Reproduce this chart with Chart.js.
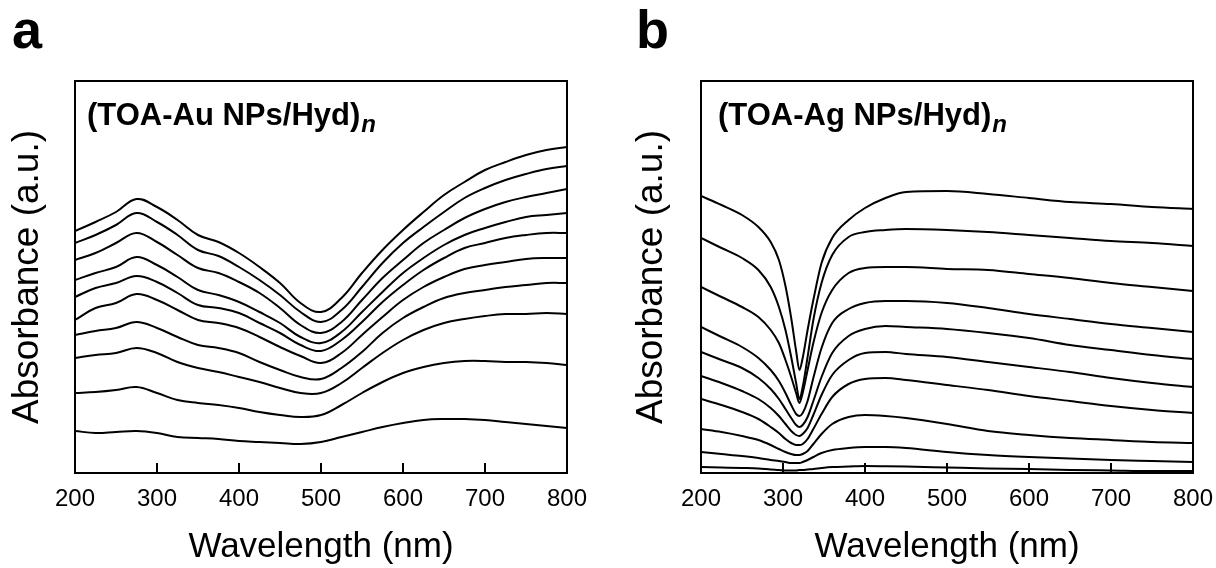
<!DOCTYPE html>
<html>
<head>
<meta charset="utf-8">
<script src="https://cdn.jsdelivr.net/npm/chart.js@4/dist/chart.umd.min.js"></script>
<style>
html,body{margin:0;padding:0;background:#fff;width:1216px;height:568px;overflow:hidden}
.panel{position:absolute;top:0;width:608px;height:568px}
</style>
</head>
<body>
<div class="panel" style="left:0"><canvas id="ca" width="608" height="568"></canvas></div>
<div class="panel" style="left:608px"><canvas id="cb" width="608" height="568"></canvas></div>
<script>
// ---- data ----
const xTickValues = [200, 300, 400, 500, 600, 700, 800];
const xTitle = 'Wavelength (nm)';
const yTitle = 'Absorbance (a.u.)';
const panelLabels = ['a', 'b'];
const sampleLabels = ['(TOA-Au NPs/Hyd)', '(TOA-Ag NPs/Hyd)'];
const subscriptLabel = 'n';

// panel a: (TOA-Au NPs/Hyd)n, 10 bilayers
const wavelengthsA = [200,225,250,275,300,325,350,375,400,425,450,475,500,525,550,575,600,625,650,675,700,725,750,775,800];
const au1  = [2.42,2.51,2.61,2.74,2.66,2.53,2.38,2.31,2.20,2.06,1.90,1.70,1.61,1.75,2.00,2.23,2.43,2.61,2.78,2.91,3.03,3.11,3.18,3.23,3.26];
const au2  = [2.30,2.38,2.48,2.60,2.51,2.38,2.23,2.17,2.06,1.93,1.78,1.61,1.51,1.63,1.86,2.10,2.30,2.46,2.61,2.75,2.85,2.93,2.99,3.04,3.07];
const au3  = [2.13,2.20,2.30,2.40,2.31,2.18,2.05,2.00,1.91,1.80,1.65,1.48,1.40,1.51,1.73,1.95,2.13,2.30,2.43,2.55,2.64,2.71,2.76,2.80,2.84];
const au4  = [1.93,2.00,2.06,2.16,2.08,1.96,1.83,1.78,1.71,1.61,1.50,1.36,1.30,1.41,1.61,1.81,2.00,2.15,2.28,2.38,2.45,2.51,2.56,2.58,2.60];
const au5  = [1.76,1.85,1.90,1.97,1.91,1.80,1.68,1.65,1.60,1.50,1.40,1.28,1.22,1.33,1.51,1.71,1.88,2.03,2.15,2.25,2.30,2.35,2.38,2.40,2.40];
const au6  = [1.53,1.65,1.70,1.79,1.73,1.63,1.53,1.50,1.45,1.36,1.26,1.17,1.10,1.20,1.38,1.56,1.73,1.86,1.96,2.04,2.08,2.11,2.14,2.15,2.15];
const au7  = [1.38,1.42,1.45,1.51,1.45,1.36,1.28,1.25,1.20,1.11,1.03,0.96,0.94,1.05,1.21,1.40,1.55,1.66,1.75,1.80,1.83,1.86,1.88,1.90,1.90];
const au8  = [1.15,1.18,1.20,1.25,1.20,1.11,1.05,1.01,0.96,0.91,0.85,0.80,0.80,0.90,1.05,1.20,1.33,1.43,1.50,1.54,1.57,1.59,1.59,1.60,1.59];
const au9  = [0.80,0.81,0.83,0.86,0.80,0.73,0.70,0.68,0.65,0.61,0.58,0.56,0.58,0.68,0.80,0.91,1.00,1.06,1.10,1.12,1.12,1.11,1.11,1.10,1.08];
const au10 = [0.42,0.40,0.41,0.42,0.40,0.36,0.35,0.34,0.32,0.31,0.30,0.29,0.31,0.36,0.41,0.46,0.50,0.53,0.54,0.54,0.53,0.51,0.49,0.47,0.45];

// panel b: (TOA-Ag NPs/Hyd)n, 10 bilayers
const wavelengthsB = [200,225,250,270,285,295,303,310,316,320,324,330,337,347,360,380,400,425,450,500,550,600,650,700,750,800];
const ag1  = [2.77,2.68,2.58,2.46,2.31,2.13,1.87,1.55,1.22,1.03,1.15,1.43,1.73,2.10,2.35,2.53,2.65,2.75,2.81,2.82,2.79,2.75,2.71,2.69,2.66,2.64];
const ag2  = [2.35,2.25,2.15,2.03,1.86,1.66,1.43,1.16,0.90,0.74,0.86,1.16,1.53,1.90,2.18,2.36,2.41,2.43,2.44,2.43,2.41,2.38,2.35,2.32,2.30,2.27];
const ag3  = [1.86,1.76,1.66,1.56,1.43,1.30,1.13,0.96,0.80,0.70,0.80,1.03,1.30,1.60,1.83,2.00,2.05,2.06,2.06,2.04,2.03,1.99,1.95,1.90,1.86,1.82];
const ag4  = [1.46,1.36,1.26,1.15,1.03,0.92,0.80,0.68,0.59,0.57,0.60,0.72,0.95,1.25,1.50,1.64,1.70,1.72,1.72,1.70,1.65,1.59,1.54,1.49,1.45,1.41];
const ag5  = [1.21,1.13,1.05,0.95,0.84,0.74,0.64,0.55,0.48,0.46,0.48,0.56,0.72,0.96,1.20,1.37,1.44,1.47,1.46,1.44,1.40,1.35,1.28,1.23,1.18,1.14];
const ag6  = [0.97,0.90,0.82,0.74,0.65,0.57,0.49,0.42,0.38,0.37,0.39,0.45,0.58,0.78,0.98,1.13,1.20,1.21,1.19,1.16,1.11,1.06,1.01,0.95,0.90,0.86];
const ag7  = [0.74,0.68,0.61,0.54,0.46,0.40,0.34,0.30,0.28,0.28,0.29,0.34,0.44,0.59,0.76,0.89,0.94,0.95,0.93,0.88,0.83,0.77,0.72,0.67,0.63,0.60];
const ag8  = [0.44,0.41,0.37,0.33,0.28,0.24,0.21,0.19,0.18,0.18,0.19,0.22,0.29,0.39,0.49,0.56,0.58,0.57,0.55,0.49,0.42,0.38,0.35,0.33,0.31,0.30];
const ag9  = [0.21,0.19,0.17,0.15,0.13,0.12,0.11,0.10,0.10,0.10,0.11,0.13,0.16,0.20,0.23,0.25,0.26,0.26,0.25,0.21,0.18,0.16,0.145,0.13,0.12,0.11];
const ag10 = [0.06,0.055,0.05,0.045,0.035,0.03,0.025,0.025,0.025,0.03,0.03,0.035,0.04,0.05,0.06,0.065,0.07,0.068,0.065,0.055,0.045,0.04,0.03,0.025,0.02,0.02];

const auSpectra = [au1,au2,au3,au4,au5,au6,au7,au8,au9,au10];
const agSpectra = [ag1,ag2,ag3,ag4,ag5,ag6,ag7,ag8,ag9,ag10];

// ---- rendering ----
const FAMILY = '"Liberation Sans", Arial, Helvetica, sans-serif';
Chart.defaults.font.family = FAMILY;
Chart.defaults.color = '#000';

const textPlugin = {
  id: 'panelText',
  afterDraw(chart, args, o) {
    const ctx = chart.ctx;
    const ca = chart.chartArea;
    ctx.save();
    ctx.fillStyle = '#000';
    ctx.textAlign = 'left';
    ctx.textBaseline = 'alphabetic';
    ctx.font = 'bold 54px ' + FAMILY;
    ctx.fillText(o.panel, o.panelX, 48);
    ctx.font = 'bold 31px ' + FAMILY;
    const sx = ca.left + o.sampleDx;
    ctx.fillText(o.sample, sx, ca.top + 44);
    const w = ctx.measureText(o.sample).width;
    ctx.font = 'italic bold 24px ' + FAMILY;
    ctx.fillText(subscriptLabel, sx + w + 1, ca.top + 51);
    ctx.restore();
  }
};

function makeChart(id, wl, spectra, cfg) {
  const datasets = spectra.map(vals => ({
    data: vals.map((v, i) => ({x: wl[i], y: v})),
    borderColor: '#000',
    borderWidth: 2,
    pointRadius: 0,
    fill: false,
    tension: cfg.tension,
    cubicInterpolationMode: cfg.interp
  }));
  const border = {display: true, color: '#000', width: 2};
  const hiddenGrid = {display: true, drawOnChartArea: false, drawTicks: false, color: '#000'};
  return new Chart(document.getElementById(id), {
    type: 'line',
    data: {datasets},
    options: {
      responsive: false,
      animation: false,
      events: [],
      layout: {padding: {top: 81, right: cfg.rightPad, left: 0, bottom: 0}},
      plugins: {
        legend: {display: false},
        tooltip: {enabled: false},
        panelText: cfg.text
      },
      scales: {
        x: {
          type: 'linear', position: 'bottom', min: 200, max: 800,
          afterBuildTicks: s => { s.ticks = xTickValues.map(v => ({value: v})); },
          afterFit: s => { s.height = 95; s.paddingLeft = 0; s.paddingRight = 0; },
          grid: {display: true, drawOnChartArea: false, drawTicks: true, tickLength: -10, color: '#000', lineWidth: 2},
          border,
          ticks: {color: '#000', font: {size: 24}, padding: 22, maxRotation: 0, autoSkip: false},
          title: {display: true, text: xTitle, color: '#000', font: {size: 35}, padding: {top: 0, bottom: 0}}
        },
        x2: {
          type: 'linear', position: 'top', min: 200, max: 800,
          afterFit: s => { s.height = 0; s.paddingLeft = 0; s.paddingRight = 0; },
          grid: hiddenGrid, border, ticks: {display: false}
        },
        y: {
          type: 'linear', position: 'left', min: 0, max: 3.92,
          afterFit: s => { s.width = cfg.yWidth; s.paddingTop = 0; s.paddingBottom = 0; },
          grid: hiddenGrid, border, ticks: {display: false},
          title: {display: true, text: yTitle, color: '#000', font: {size: 37}, padding: {top: cfg.yTitlePad, bottom: 0}}
        },
        y2: {
          type: 'linear', position: 'right', min: 0, max: 3.92,
          afterFit: s => { s.width = 0; s.paddingTop = 0; s.paddingBottom = 0; },
          grid: hiddenGrid, border, ticks: {display: false}
        }
      }
    },
    plugins: [textPlugin]
  });
}

makeChart('ca', wavelengthsA, auSpectra, {
  rightPad: 41, yWidth: 75, yTitlePad: 6, tension: 0.4, interp: 'default',
  text: {panel: panelLabels[0], panelX: 12, sample: sampleLabels[0], sampleDx: 12}
});
makeChart('cb', wavelengthsB, agSpectra, {
  rightPad: 23, yWidth: 93, yTitlePad: 22, tension: 0.4, interp: 'monotone',
  text: {panel: panelLabels[1], panelX: 28, sample: sampleLabels[1], sampleDx: 17}
});
</script>
</body>
</html>
